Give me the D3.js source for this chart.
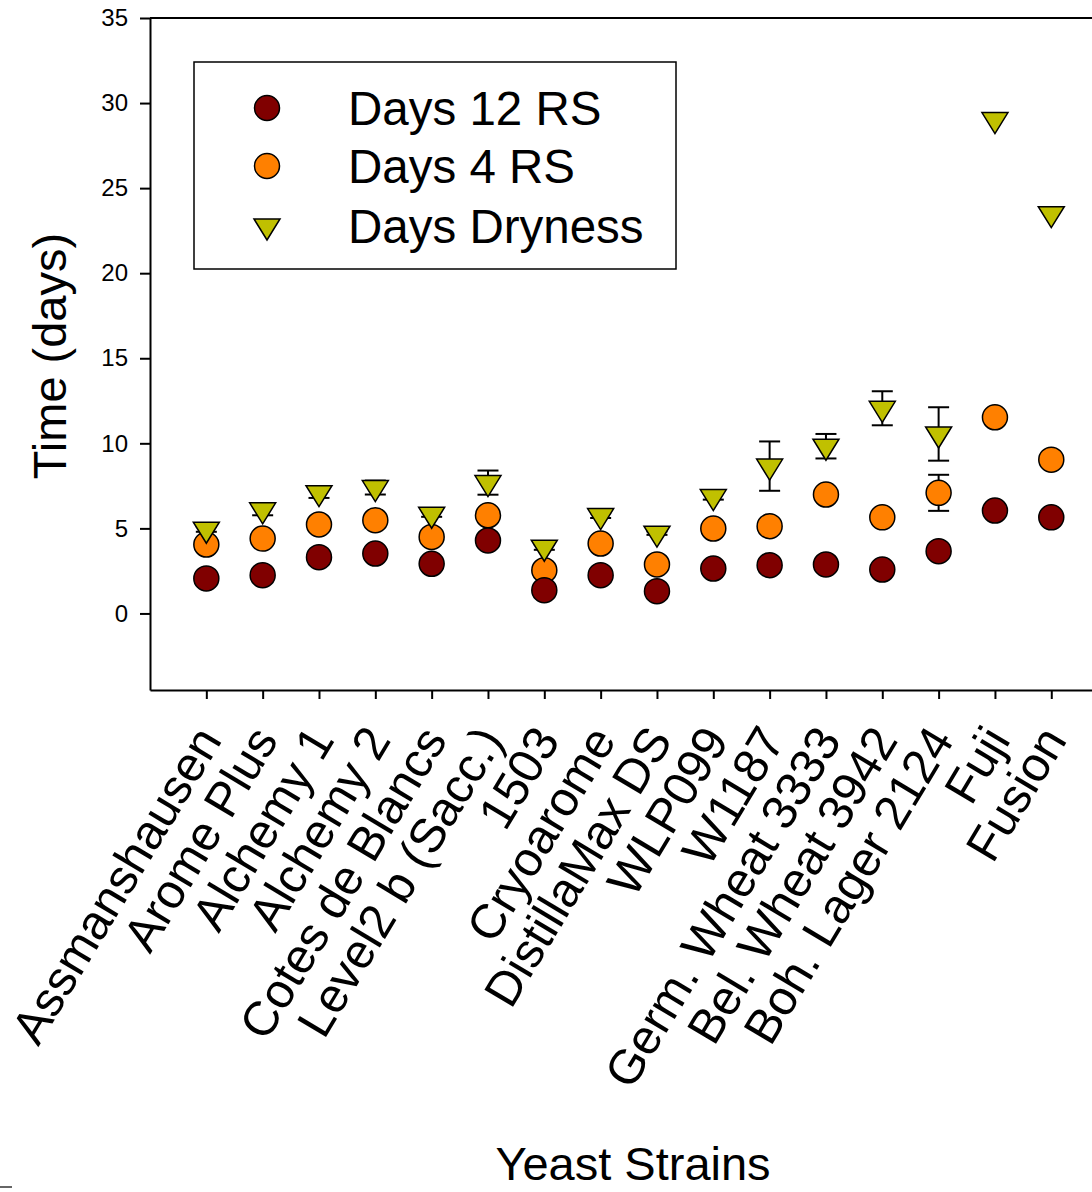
<!DOCTYPE html>
<html>
<head>
<meta charset="utf-8">
<script src="https://cdn.jsdelivr.net/npm/d3@7"></script>
<style>
	body { margin: 0; background: #fff; }
	svg { display: block; font-family: "Liberation Sans", Arial, sans-serif; }
</style>
</head>
<body>
<svg id="chart" width="1092" height="1192"></svg>
<script>
// ==================================
// data
// ==================================
var strains = [
	"Assmanshausen", "Arome Plus", "Alchemy 1", "Alchemy 2", "Cotes de Blancs",
	"Level2 b (Sacc.)", "1503", "Cryoarome", "DistillaMax DS", "WLP099", "W1187",
	"Germ. Wheat 3333", "Bel. Wheat 3942", "Boh. Lager 2124", "Fuji", "Fusion"
];
var days12RS     = [2.06, 2.25, 3.31, 3.52, 2.92, 4.29, 1.37, 2.25, 1.31, 2.64, 2.84, 2.88, 2.58, 3.66, 6.05, 5.65];
var days4RS      = [4.05, 4.40, 5.23, 5.48, 4.50, 5.77, 2.54, 4.11, 2.88, 4.99, 5.13, 6.99, 5.65, 7.09, 11.53, 9.04];
var days4RSErr   = [0, 0, 0, 0, 0, 0, 0, 0, 0, 0, 0, 0, 0, 1.06, 0, 0];
var daysDry      = [4.95, 6.09, 7.10, 7.40, 5.83, 7.69, 3.89, 5.75, 4.72, 6.87, 8.66, 9.83, 12.06, 10.55, 29.03, 23.50];
var daysDryErr   = [0.15, 0.32, 0.31, 0.41, 0.15, 0.71, 0.15, 0.14, 0.10, 0.18, 1.45, 0.72, 1.00, 1.57, 0, 0];
var yTicks = [0, 5, 10, 15, 20, 25, 30, 35];

var legendNames = ["Days 12 RS", "Days 4 RS", "Days Dryness"];

// ==================================
// layout
// ==================================
var svg = d3.select("#chart");
var FONT_BIG = 47;

var x = d3.scaleLinear().domain([-1, 16]).range([150, 150 + 17 * 56.33]);
var y = d3.scaleLinear().domain([-4.5, 35]).range([690, 18]);

var COL_RED = "#800000";
var COL_ORANGE = "#ff8000";
var COL_OLIVE = "#c0c000";
var R = 12.5;

// triangle pointing down, centred on its centroid
function triPath(cx, cy)
{
	return "M" + (cx - 13) + "," + (cy - 7) +
		"L" + (cx + 13) + "," + (cy - 7) +
		"L" + cx + "," + (cy + 14) + "Z";
}

// ==================================
// axes
// ==================================
var yAxis = svg.append("g")
	.attr("transform", "translate(" + x(-1) + ",0)")
	.call(d3.axisLeft(y).tickValues(yTicks).tickSize(10).tickSizeOuter(0).tickPadding(12));
yAxis.select(".domain").attr("stroke-width", 2);
yAxis.selectAll(".tick line").attr("stroke-width", 2);
yAxis.selectAll(".tick text").attr("font-size", 24).attr("font-family", "Liberation Sans, Arial, sans-serif").attr("fill", "#000");

var xAxis = svg.append("g")
	.attr("transform", "translate(0," + y(-4.5) + ")")
	.call(d3.axisBottom(x).tickValues(d3.range(strains.length)).tickSize(9).tickSizeOuter(0)
		.tickFormat(function(i) { return strains[i]; }));
xAxis.select(".domain").attr("stroke-width", 2);
xAxis.selectAll(".tick line").attr("stroke-width", 2);
xAxis.selectAll(".tick text")
	.attr("font-size", 48.5)
	.attr("font-family", "Liberation Sans, Arial, sans-serif")
	.attr("fill", "#000")
	.attr("text-anchor", "end")
	.attr("dy", null)
	.attr("y", null)
	.attr("transform", "translate(16,50) rotate(-59)");

// top and right frame
svg.append("path")
	.attr("d", "M" + x(-1) + "," + y(35) + "H" + x(16) + "V" + y(-4.5))
	.attr("fill", "none")
	.attr("stroke", "#000")
	.attr("stroke-width", 2);

// axis titles
svg.append("text")
	.attr("transform", "translate(66,356) rotate(-90)")
	.attr("text-anchor", "middle")
	.attr("font-size", FONT_BIG)
	.text("Time (days)");

svg.append("text")
	.attr("x", 633)
	.attr("y", 1180)
	.attr("text-anchor", "middle")
	.attr("font-size", FONT_BIG)
	.text("Yeast Strains");

// stray mark at the bottom-left corner
svg.append("line")
	.attr("x1", 0).attr("x2", 12)
	.attr("y1", 1187).attr("y2", 1187)
	.attr("stroke", "#333").attr("stroke-width", 1.5);

// ==================================
// error bars
// ==================================
function drawErrors(g, values, errs)
{
	var idx = d3.range(values.length).filter(function(i) { return errs[i] > 0; });
	var eg = g.selectAll("g.err").data(idx).enter().append("g")
		.attr("class", "err")
		.attr("stroke", "#000")
		.attr("stroke-width", 2);
	eg.append("line")
		.attr("x1", function(i) { return x(i); })
		.attr("x2", function(i) { return x(i); })
		.attr("y1", function(i) { return y(values[i] + errs[i]); })
		.attr("y2", function(i) { return y(values[i] - errs[i]); });
	[1, -1].forEach(function(sign) {
		eg.append("line")
			.attr("x1", function(i) { return x(i) - 10.5; })
			.attr("x2", function(i) { return x(i) + 10.5; })
			.attr("y1", function(i) { return y(values[i] + sign * errs[i]); })
			.attr("y2", function(i) { return y(values[i] + sign * errs[i]); });
	});
}

// ==================================
// points
// ==================================
var plot = svg.append("g");

drawErrors(plot.append("g"), days4RS, days4RSErr);

plot.append("g").selectAll("circle").data(days4RS).enter().append("circle")
	.attr("cx", function(d, i) { return x(i); })
	.attr("cy", function(d) { return y(d); })
	.attr("r", R)
	.attr("fill", COL_ORANGE)
	.attr("stroke", "#000")
	.attr("stroke-width", 1.5);

plot.append("g").selectAll("circle").data(days12RS).enter().append("circle")
	.attr("cx", function(d, i) { return x(i); })
	.attr("cy", function(d) { return y(d); })
	.attr("r", R)
	.attr("fill", COL_RED)
	.attr("stroke", "#000")
	.attr("stroke-width", 1.5);

drawErrors(plot.append("g"), daysDry, daysDryErr);

plot.append("g").selectAll("path").data(daysDry).enter().append("path")
	.attr("d", function(d, i) { return triPath(x(i), y(d)); })
	.attr("fill", COL_OLIVE)
	.attr("stroke", "#000")
	.attr("stroke-width", 1.5)
	.attr("stroke-linejoin", "miter");

// ==================================
// legend
// ==================================
var legend = svg.append("g");
legend.append("rect")
	.attr("x", 194).attr("y", 62)
	.attr("width", 482).attr("height", 207)
	.attr("fill", "#fff")
	.attr("stroke", "#000")
	.attr("stroke-width", 1.5);

var rowY = [108, 166, 226];
legend.append("circle")
	.attr("cx", 267).attr("cy", rowY[0]).attr("r", R)
	.attr("fill", COL_RED).attr("stroke", "#000").attr("stroke-width", 1.5);
legend.append("circle")
	.attr("cx", 267).attr("cy", rowY[1]).attr("r", R)
	.attr("fill", COL_ORANGE).attr("stroke", "#000").attr("stroke-width", 1.5);
legend.append("path")
	.attr("d", triPath(267, rowY[2]))
	.attr("fill", COL_OLIVE).attr("stroke", "#000").attr("stroke-width", 1.5);

legend.selectAll("text.lab").data(legendNames).enter().append("text")
	.attr("class", "lab")
	.attr("x", 348)
	.attr("y", function(d, i) { return rowY[i] + 17; })
	.attr("font-size", 47.5)
	.text(function(d) { return d; });
</script>
</body>
</html>
